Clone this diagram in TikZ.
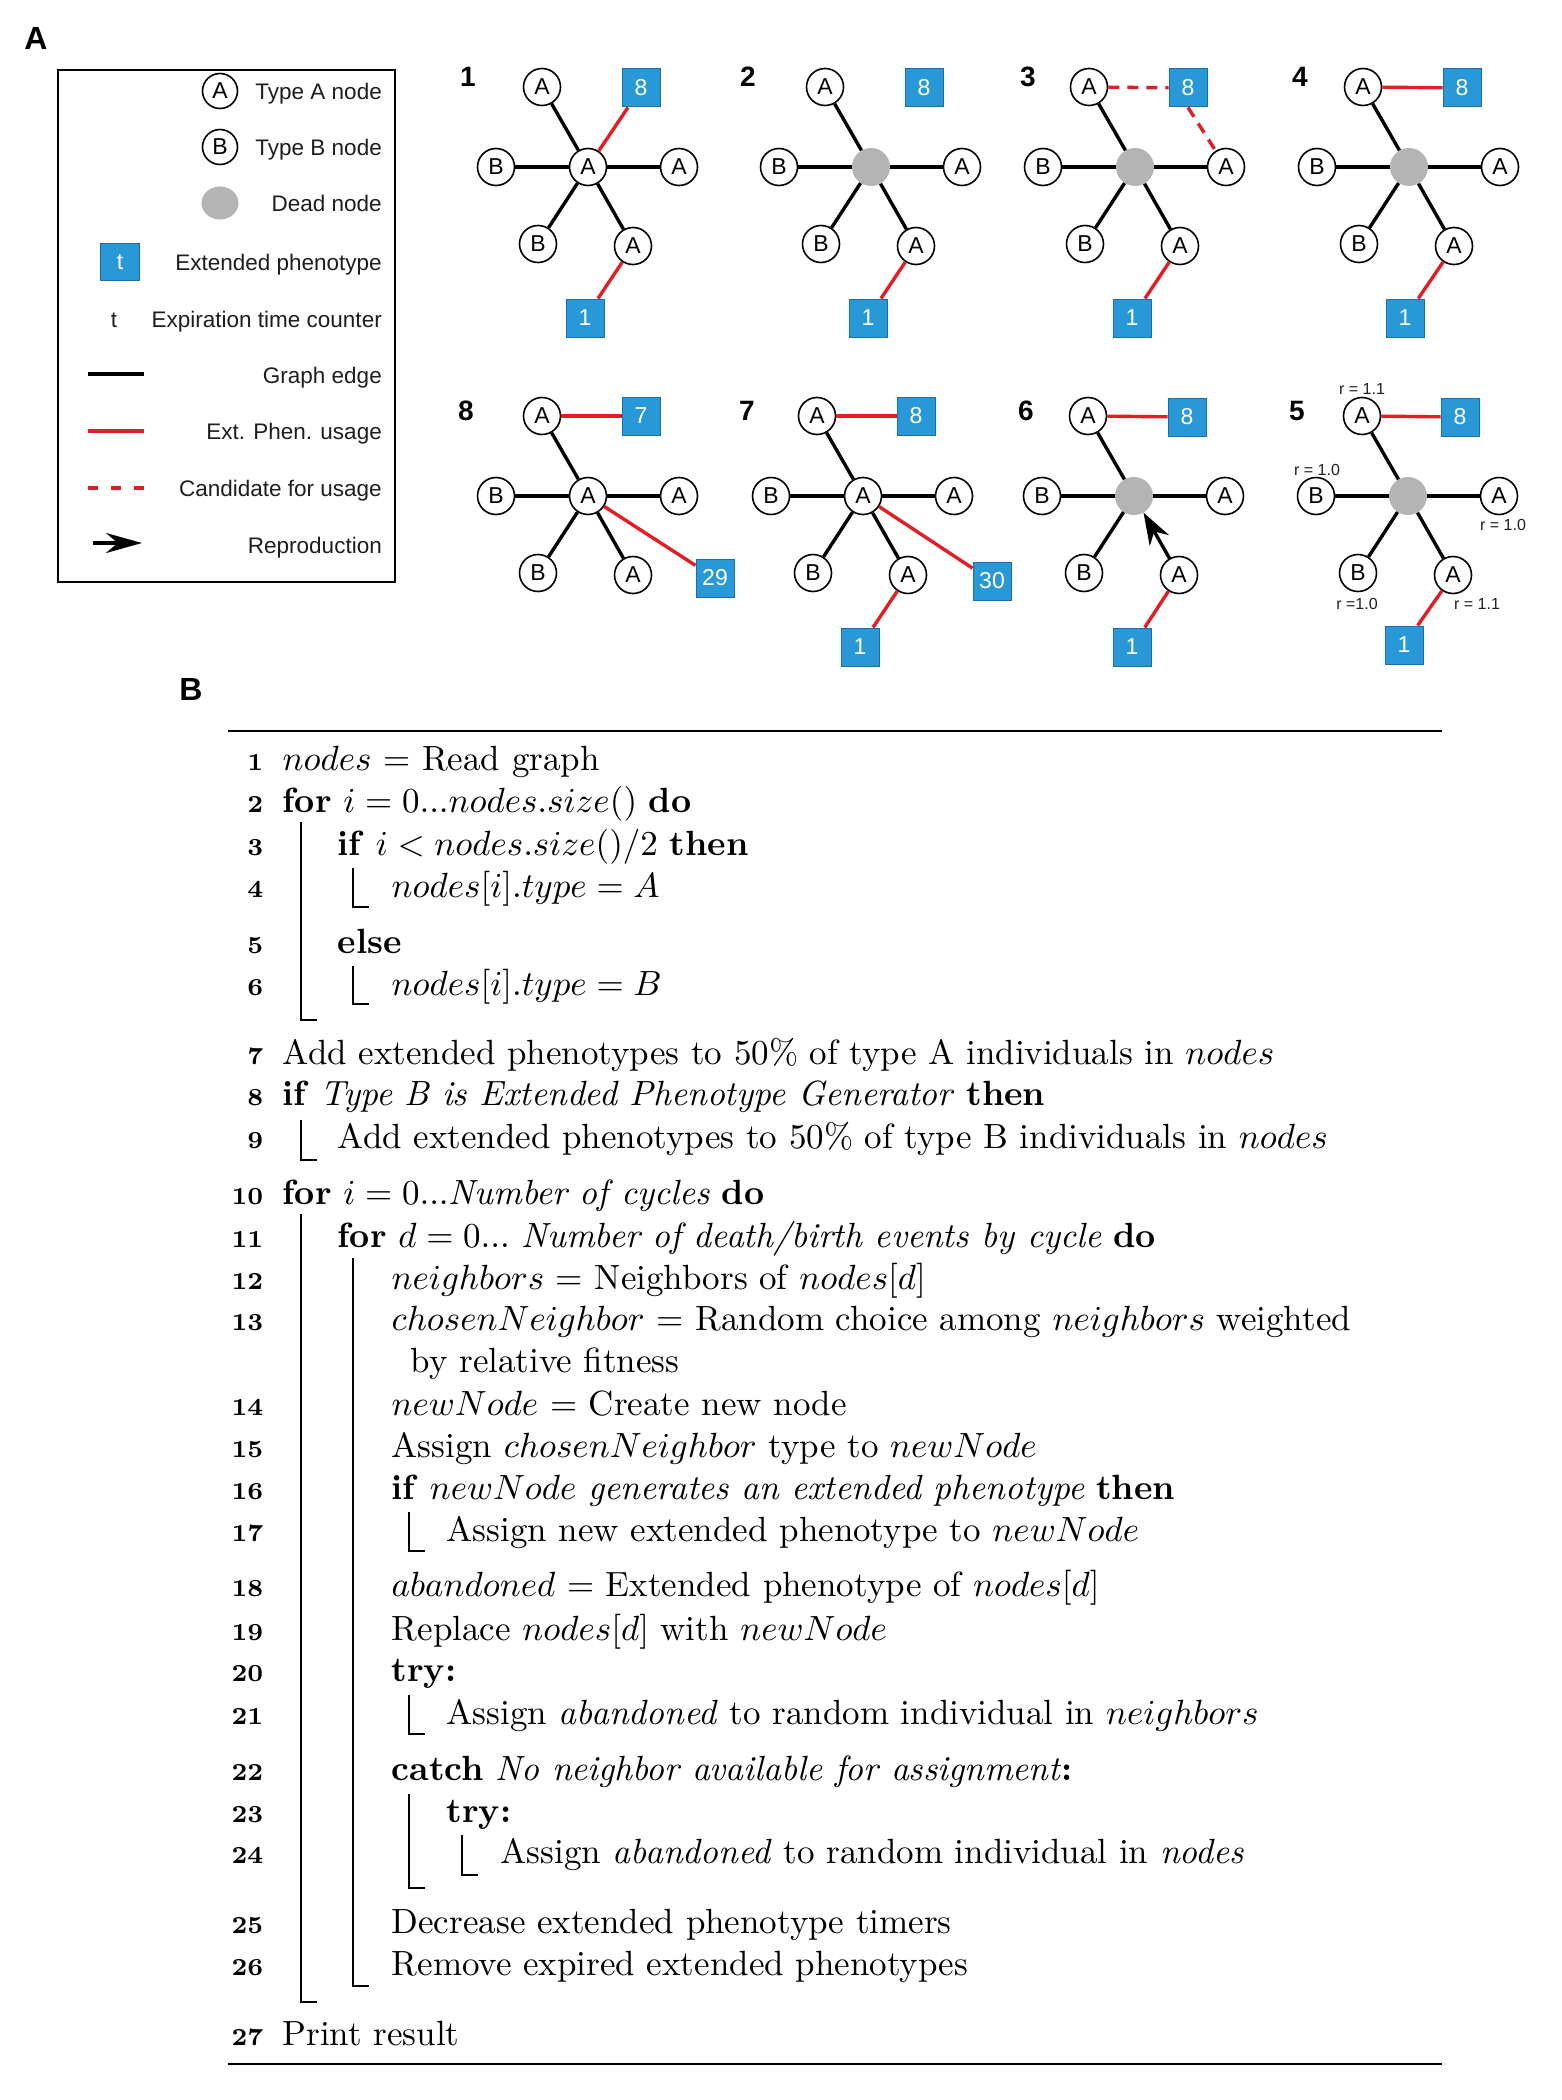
\documentclass[tikz,border=0pt]{standalone}
\usepackage{fontspec}
\newfontfamily\hv{Liberation Sans}
\usetikzlibrary{arrows.meta,shapes.geometric}
\definecolor{epblue}{RGB}{41,152,214}
\definecolor{epborder}{RGB}{28,110,175}
\definecolor{epred}{RGB}{225,30,36}
\definecolor{deadgray}{RGB}{180,180,180}
\definecolor{txt}{RGB}{30,30,30}
% #1 prefix, #2 cx, #3 cy, #4 centre style, #5 centre text, #6 style of the lower-right edge (drawn from lower-right node to centre)
\newcommand{\starpanel}[6]{%
  \node[#4] (#1c) at (#2,#3) {#5};
  \node[nA] (#1t) at (#2-46,#3-80) {A};
  \node[nA] (#1l) at (#2-92,#3) {B};
  \node[nA] (#1r) at (#2+91,#3) {A};
  \node[nA] (#1bl) at (#2-50,#3+77) {B};
  \node[nA] (#1br) at (#2+45,#3+79) {A};
  \draw[gedge] (#1c) -- (#1t);
  \draw[gedge] (#1c) -- (#1l);
  \draw[gedge] (#1c) -- (#1r);
  \draw[gedge] (#1c) -- (#1bl);
  \draw[#6] (#1br) -- (#1c);
}
\begin{document}
\begin{tikzpicture}[x=1pt,y=-1pt,
  nA/.style={circle,draw=black,line width=1.6pt,fill=white,minimum size=37pt,inner sep=0pt,font=\hv\fontsize{23}{23}\selectfont},
  dead/.style={circle,fill=deadgray,minimum size=38pt,inner sep=0pt},
  ep/.style={rectangle,fill=epblue,draw=epborder,line width=1pt,minimum size=38pt,inner sep=0pt,text=white,font=\hv\fontsize{23}{23}\selectfont},
  gedge/.style={line width=3.4pt,black},
  redge/.style={line width=3.4pt,epred},
  cand/.style={redge,dash pattern=on 11pt off 8pt},
  pnum/.style={font=\hv\bfseries\fontsize{28}{28}\selectfont,inner sep=0pt},
  plab/.style={font=\hv\bfseries\fontsize{32}{32}\selectfont,inner sep=0pt},
  leg/.style={font=\hv\fontsize{22.5}{24}\selectfont,anchor=base east,inner sep=0pt,text=txt},
  rlab/.style={font=\hv\fontsize{16}{16}\selectfont,inner sep=0pt,text=txt},
  alg/.style={anchor=base west,inner sep=0pt,font=\normalsize,scale=3.5},
  lno/.style={anchor=base east,inner sep=0pt,font=\bfseries\scriptsize,scale=3.5},
  blockbar/.style={line width=1.4pt},
  algrule/.style={line width=2.8pt}
]
\fill[white] (0,0) rectangle (1562,2100);
\useasboundingbox (0,0) rectangle (1562,2100);

% ---------------- Panel A ----------------
\node[plab] (labA) at (36,38) {A};

% legend
\draw[line width=2pt] (58,70) rectangle (395,582);
\node[nA,minimum size=35pt] (lgA) at (220,91) {A};
\node[leg] (lgAt) at (382,100) {Type A node};
\node[nA,minimum size=35pt] (lgB) at (220,147) {B};
\node[leg] (lgBt) at (382,156) {Type B node};
\node[ellipse,fill=deadgray,minimum width=37pt,minimum height=33pt,inner sep=0pt] (lgD) at (220,203) {};
\node[leg] (lgDt) at (382,212) {Dead node};
\node[ep,minimum width=39pt,minimum height=37pt] (lgE) at (120,262) {t};
\node[leg] (lgEt) at (382,270) {Extended phenotype};
\node[inner sep=0pt,font=\hv\fontsize{22.5}{24}\selectfont,anchor=base,text=txt] (lgT) at (114,327) {t};
\node[leg] (lgTt) at (382,327) {Expiration time counter};
\coordinate (lgG1) at (88,374); \coordinate (lgG2) at (144,374);
\draw[line width=3.6pt] (lgG1) -- (lgG2);
\node[leg] (lgGt) at (382,383) {Graph edge};
\coordinate (lgR1) at (88,431); \coordinate (lgR2) at (144,431);
\draw[line width=3.2pt,epred] (lgR1) -- (lgR2);
\node[leg] (lgRt) at (382,439) {Ext. Phen. usage};
\coordinate (lgC1) at (88,488); \coordinate (lgC2) at (144,488);
\draw[line width=3.2pt,epred,dash pattern=on 10pt off 13pt] (lgC1) -- (lgC2);
\node[leg] (lgCt) at (382,496) {Candidate for usage};
\coordinate (lgP1) at (93,543); \coordinate (lgP2) at (142,543);
\draw[line width=3.4pt,-{Stealth[length=36pt,width=20pt]}] (lgP1) -- (lgP2);
\node[leg] (lgPt) at (382,553) {Reproduction};

% panel 1
\node[pnum] (n1) at (468,77) {1};
\starpanel{p1}{588}{167}{nA}{A}{gedge}
\node[ep] (p1e8) at (641,88) {8};
\node[ep] (p1e1) at (585,318) {1};
\draw[redge] (p1c) -- (p1e8);
\draw[redge] (p1br) -- (p1e1);

% panel 2
\node[pnum] (n2) at (748,77) {2};
\starpanel{p2}{871}{167}{dead}{}{gedge}
\node[ep] (p2e8) at (924,88) {8};
\node[ep] (p2e1) at (868,318) {1};
\draw[redge] (p2br) -- (p2e1);

% panel 3
\node[pnum] (n3) at (1028,77) {3};
\starpanel{p3}{1135}{167}{dead}{}{gedge}
\node[ep] (p3e8) at (1188,88) {8};
\node[ep] (p3e1) at (1132,318) {1};
\draw[cand] (p3t) -- (p3e8);
\draw[cand] (p3e8.south) -- (p3r);
\draw[redge] (p3br) -- (p3e1);

% panel 4
\node[pnum] (n4) at (1300,77) {4};
\starpanel{p4}{1409}{167}{dead}{}{gedge}
\node[ep] (p4e8) at (1462,88) {8};
\node[ep] (p4e1) at (1405,318) {1};
\draw[redge] (p4t) -- (p4e8);
\draw[redge] (p4br) -- (p4e1);

% panel 8
\node[pnum] (n8) at (466,411) {8};
\starpanel{p8}{588}{496}{nA}{A}{gedge}
\node[ep] (p8e7) at (641,416) {7};
\node[ep] (p8e29) at (715,578) {29};
\draw[redge] (p8t) -- (p8e7);
\draw[redge] (p8c) -- (p8e29);

% panel 7
\node[pnum] (n7) at (747,411) {7};
\starpanel{p7}{863}{496}{nA}{A}{gedge}
\node[ep] (p7e8) at (916,416) {8};
\node[ep] (p7e30) at (992,581) {30};
\node[ep] (p7e1) at (860,647) {1};
\draw[redge] (p7t) -- (p7e8);
\draw[redge] (p7c) -- (p7e30);
\draw[redge] (p7br) -- (p7e1);

% panel 6
\node[pnum] (n6) at (1026,411) {6};
\starpanel{p6}{1134}{496}{dead}{}{gedge,-{Stealth[length=32pt,width=22pt]}}
\node[ep] (p6e8) at (1187,417) {8};
\node[ep] (p6e1) at (1132,647) {1};
\draw[redge] (p6t) -- (p6e8);
\draw[redge] (p6br) -- (p6e1);

% panel 5
\node[pnum] (n5) at (1297,411) {5};
\starpanel{p5}{1408}{496}{dead}{}{gedge}
\node[ep] (p5e8) at (1460,417) {8};
\node[ep] (p5e1) at (1404,645) {1};
\draw[redge] (p5t) -- (p5e8);
\draw[redge] (p5br) -- (p5e1);
\node[rlab] (r1) at (1362,389) {r = 1.1};
\node[rlab] (r2) at (1317,470) {r = 1.0};
\node[rlab] (r3) at (1503,525) {r = 1.0};
\node[rlab] (r4) at (1357,604) {r =1.0};
\node[rlab] (r5) at (1477,604) {r = 1.1};

% ---------------- Panel B ----------------
\node[plab] (labB) at (191,689) {B};
\coordinate (rt1) at (228,731); \coordinate (rt2) at (1442,731);
\draw[algrule] (rt1) -- (rt2);
\coordinate (rb1) at (228,2064); \coordinate (rb2) at (1442,2064);
\draw[algrule] (rb1) -- (rb2);

\node[lno] (k1) at (264,770) {1};
\node[alg] (t1) at (282,770) {$nodes$ = Read graph};
\node[lno] (k2) at (264,812) {2};
\node[alg] (t2) at (282,812) {\textbf{for} $i = 0...nodes.size()$ \textbf{do}};
\node[lno] (k3) at (264,855) {3};
\node[alg] (t3) at (337,855) {\textbf{if} $i < nodes.size()/2$ \textbf{then}};
\node[lno] (k4) at (264,897) {4};
\node[alg] (t4) at (391,897) {$nodes[i].type = A$};
\node[lno] (k5) at (264,953) {5};
\node[alg] (t5) at (337,953) {\textbf{else}};
\node[lno] (k6) at (264,995) {6};
\node[alg] (t6) at (391,995) {$nodes[i].type = B$};
\node[lno] (k7) at (264,1064) {7};
\node[alg] (t7) at (282,1064) {Add extended phenotypes to 50\% of type A individuals in $nodes$};
\node[lno] (k8) at (264,1105) {8};
\node[alg] (t8) at (282,1105) {\textbf{if} \textit{Type B is Extended Phenotype Generator} \textbf{then}};
\node[lno] (k9) at (264,1148) {9};
\node[alg] (t9) at (337,1148) {Add extended phenotypes to 50\% of type B individuals in $nodes$};
\node[lno] (k10) at (264,1204) {10};
\node[alg] (t10) at (282,1204) {\textbf{for} $i = 0...$\textit{Number of cycles} \textbf{do}};
\node[lno] (k11) at (264,1247) {11};
\node[alg] (t11) at (337,1247) {\textbf{for} $d = 0...$ \textit{Number of death/birth events by cycle} \textbf{do}};
\node[lno] (k12) at (264,1289) {12};
\node[alg] (t12) at (391,1289) {$neighbors$ = Neighbors of $nodes[d]$};
\node[lno] (k13) at (264,1330) {13};
\node[alg] (t13) at (391,1330) {$chosenNeighbor$ = Random choice among $neighbors$ weighted};
\node[alg] (t13b) at (410,1372) {by relative fitness};
\node[lno] (k14) at (264,1415) {14};
\node[alg] (t14) at (391,1415) {$newNode$ = Create new node};
\node[lno] (k15) at (264,1457) {15};
\node[alg] (t15) at (391,1457) {Assign $chosenNeighbor$ type to $newNode$};
\node[lno] (k16) at (264,1499) {16};
\node[alg] (t16) at (391,1499) {\textbf{if} $newNode$ \textit{generates an extended phenotype} \textbf{then}};
\node[lno] (k17) at (264,1541) {17};
\node[alg] (t17) at (446,1541) {Assign new extended phenotype to $newNode$};
\node[lno] (k18) at (264,1596) {18};
\node[alg] (t18) at (391,1596) {$abandoned$ = Extended phenotype of $nodes[d]$};
\node[lno] (k19) at (264,1640) {19};
\node[alg] (t19) at (391,1640) {Replace $nodes[d]$ with $newNode$};
\node[lno] (k20) at (264,1681) {20};
\node[alg] (t20) at (391,1681) {\textbf{try:}};
\node[lno] (k21) at (264,1724) {21};
\node[alg] (t21) at (446,1724) {Assign \textit{abandoned} to random individual in $neighbors$};
\node[lno] (k22) at (264,1780) {22};
\node[alg] (t22) at (391,1780) {\textbf{catch} \textit{No neighbor available for assignment}\textbf{:}};
\node[lno] (k23) at (264,1822) {23};
\node[alg] (t23) at (446,1822) {\textbf{try:}};
\node[lno] (k24) at (264,1863) {24};
\node[alg] (t24) at (500,1863) {Assign \textit{abandoned} to random individual in \textit{nodes}};
\node[lno] (k25) at (264,1933) {25};
\node[alg] (t25) at (391,1933) {Decrease extended phenotype timers};
\node[lno] (k26) at (264,1975) {26};
\node[alg] (t26) at (391,1975) {Remove expired extended phenotypes};
\node[lno] (k27) at (264,2045) {27};
\node[alg] (t27) at (282,2045) {Print result};

% block bars
\draw[blockbar] (301,822) -- (301,1020) -- (317,1020);
\draw[blockbar] (353,868) -- (353,907) -- (369,907);
\draw[blockbar] (353,966) -- (353,1004) -- (369,1004);
\draw[blockbar] (301,1120) -- (301,1160) -- (317,1160);
\draw[blockbar] (301,1214) -- (301,2002) -- (317,2002);
\draw[blockbar] (353,1258) -- (353,1986) -- (369,1986);
\draw[blockbar] (409,1512) -- (409,1551) -- (425,1551);
\draw[blockbar] (409,1695) -- (409,1734) -- (425,1734);
\draw[blockbar] (409,1794) -- (409,1888) -- (425,1888);
\draw[blockbar] (462,1835) -- (462,1875) -- (478,1875);
\end{tikzpicture}
\end{document}
